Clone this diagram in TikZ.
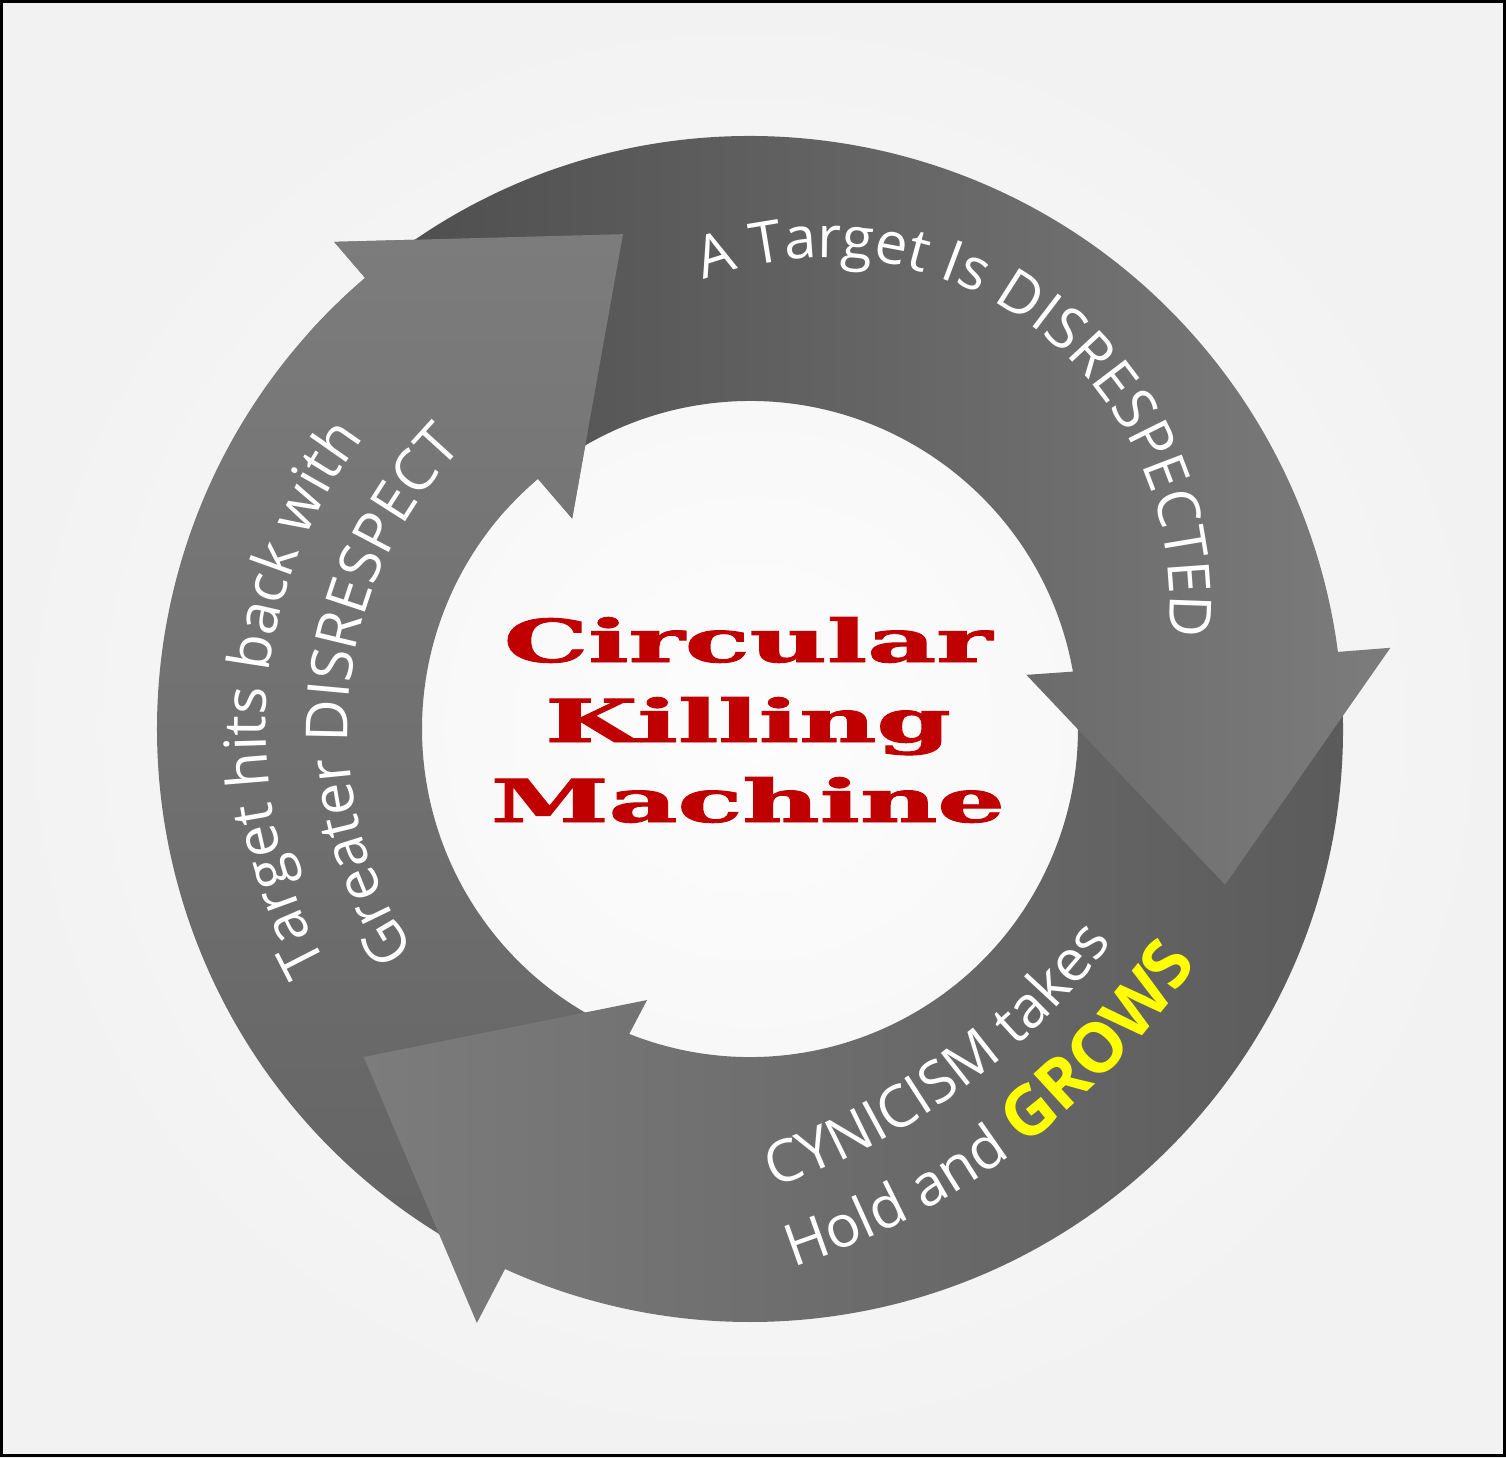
\documentclass[tikz,border=0pt]{standalone}
\usepackage{fontspec}
\usetikzlibrary{calc,decorations.text}
\newfontfamily\lblfont{Open Sans}
\newfontfamily\ttlfont[BoldFeatures={FakeBold=1.5}]{DejaVu Serif}
\definecolor{bgout}{RGB}{242,242,242}
\definecolor{bgin}{RGB}{253,253,253}
\definecolor{adark}{RGB}{78,78,78}
\definecolor{amid}{RGB}{100,100,100}
\definecolor{abot}{RGB}{90,90,90}
\definecolor{alight}{RGB}{124,124,124}
\definecolor{titlered}{RGB}{192,0,0}
\definecolor{growsyellow}{RGB}{255,255,0}
\newcommand{\lbl}{\lblfont\fontsize{16.5}{20}\selectfont\color{white}}
\newcommand{\lblgrow}{\lblfont\bfseries\fontsize{19.5}{23}\selectfont\color{growsyellow}}
\tikzset{
  % #1 tail angle, #2 outer end angle, #3 inner end angle,
  % #4 angle of head base midpoint, #5 its radius, #6 direction of the head base
  arrowpath/.style n args={6}{insert path={
    (#1:593) arc[start angle=#1, end angle=#2, radius=593]
    -- ($(#4:#5)+(#6:182.5)$) -- ($(#4:#5)+(#6-90:224)$) -- ($(#4:#5)+(#6:-182.5)$)
    -- (#3:328) arc[start angle=#3, end angle=#1, radius=328] -- cycle}},
  leftshade/.style={top color=alight, bottom color=amid},
  bottomshade/.style={left color=alight, right color=abot},
  topshade/.style={left color=adark, right color=alight},
  ttl/.style={text=titlered, font=\ttlfont\bfseries\fontsize{16.8}{20}\selectfont, inner sep=0pt, anchor=base},
  curvetext/.style={decorate, decoration={text along path, text align=center, text={#1}}}
}
\begin{document}
\begin{tikzpicture}[x=0.01cm,y=0.01cm]
\useasboundingbox (-750,-728) rectangle (756,729);
\shade[inner color=bgin, outer color=bgout] (-750,-728) rectangle (756,729);

% arrows (left band lowest, bottom over it, top over bottom)
\path[leftshade] [arrowpath={243}{130.47}{130.28}{130.4}{458}{130.7}];
\path[bottomshade] [arrowpath={5}{-114.4}{-111.6}{-113.5}{471.6}{242.2}];
\path[topshade] [arrowpath={128}{7.47}{10.08}{8.4}{463.4}{4.25}];
% left arrowhead lies over the tail of the top arrow
\begin{scope}
  \clip (0,0) -- (138:900) -- (92:900) -- cycle;
  \path[leftshade] [arrowpath={243}{130.47}{130.28}{130.4}{458}{130.7}];
\end{scope}

% centres of the text arcs
\coordinate (ctop) at (75,126);
\coordinate (cbot) at (-200,205);

% labels
\path[curvetext={|\lbl|A Target Is DISRESPECTED}]
  ($(ctop)+(122.5:345)$) arc[start angle=122.5, end angle=-17.5, radius=345];
\path[curvetext={|\lbl|Target hits back with}]
  (226:484) arc[start angle=226, end angle=126, radius=484];
\path[curvetext={|\lbl|Greater DISRESPECT}]
  (225:402) arc[start angle=225, end angle=124, radius=402];
\path[curvetext={|\lbl|CYNICISM takes}]
  ($(cbot)+(-82:700)$) arc[start angle=-82, end angle=-26, radius=700];
\path[curvetext={|\lbl|Hold and |\lblgrow|GROWS}]
  ($(cbot)+(-81:782)$) arc[start angle=-81, end angle=-25, radius=782];

% title
\node[ttl] (t1) at (-2,67) {\scalebox{1.8}[1]{Circular}};
\node[ttl] (t2) at (-2,-13) {\scalebox{1.8}[1]{Killing}};
\node[ttl] (t3) at (-2,-93) {\scalebox{1.8}[1]{Machine}};

% frame
\draw[line width=0.03cm] (-748.5,-726.5) rectangle (754.5,727.5);
\end{tikzpicture}
\end{document}
